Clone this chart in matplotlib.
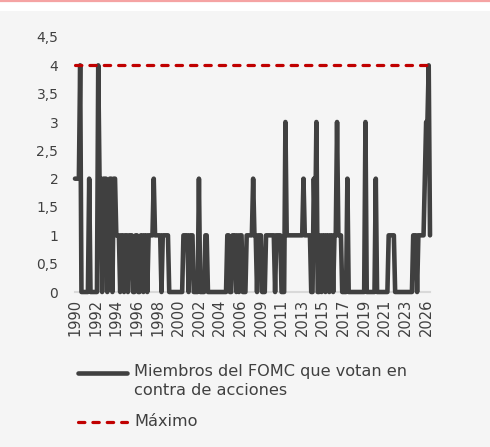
import matplotlib
matplotlib.use("Agg")
import matplotlib.pyplot as plt
import numpy as np
from matplotlib.lines import Line2D
from matplotlib.patches import Rectangle

# Number of FOMC members dissenting at each meeting
disidentes = (
    [2, 2, 2, 2, 4, 0, 0, 0, 0, 0, 0, 2, 0, 0, 0, 0, 0, 0, 4, 2,
     2, 0, 2, 2, 2, 0, 1, 2, 2, 0, 2, 2, 1, 1, 1, 0, 1, 1, 0, 1,
     1, 0, 1, 1, 1, 0, 0, 1, 1, 0, 0, 1, 1, 0, 1, 1, 0, 1, 1, 1,
     1, 2, 1, 1, 1, 1, 1, 0, 1, 1, 1, 1, 1, 0, 0, 0, 0, 0, 0, 0,
     0, 0, 0, 0, 1, 1, 1, 1, 0, 1, 1, 1, 0, 0, 0, 0, 2, 0, 0, 0,
     0, 1, 1, 0, 0, 0, 0, 0, 0, 0, 0, 0, 0, 0, 0, 0, 0, 0, 1, 1,
     0, 0, 1, 1, 1, 0, 1, 0, 1, 1, 0, 0, 0, 1, 1, 1, 1, 1, 2, 1,
     1, 0, 1, 1, 1, 0, 0, 0, 1, 1, 1, 1, 1, 1, 1, 0, 1, 1, 1, 1,
     0, 0, 0, 3, 1, 1, 1, 1, 1, 1, 1, 1, 1, 1, 1, 1, 1, 2, 1, 1,
     1, 1, 1, 0, 0, 2, 1, 3, 0, 0, 1, 0, 1, 1, 0, 1, 1, 0, 1, 1,
     0, 1, 1, 3, 1, 1, 1, 0, 0, 0, 0, 2, 0, 0, 0, 0, 0, 0, 0, 0,
     0, 0, 0, 0, 0, 3, 0, 0, 0, 0, 0, 0, 0, 2, 0, 0, 0, 0, 0, 0,
     0, 0, 0, 1, 1, 1, 1, 1, 0, 0, 0, 0, 0, 0, 0, 0, 0, 0, 0, 0,
     0, 0, 1, 1, 1, 0, 1, 1, 1, 1, 1, 2, 3, 3, 4, 1]
)
maximo_valor = 4
anios = ['1990', '1992', '1994', '1996', '1998', '2000', '2002', '2004', '2006',
         '2009', '2011', '2013', '2015', '2017', '2019', '2021', '2023', '2026']
intervalo_etiquetas = 16
yticks = [0, 0.5, 1, 1.5, 2, 2.5, 3, 3.5, 4, 4.5]
ytick_labels = ['0', '0,5', '1', '1,5', '2', '2,5', '3', '3,5', '4', '4,5']
label_serie = 'Miembros del FOMC que votan en\ncontra de acciones'
label_max = 'Máximo'

W, H = 490, 447
fx = lambda px: px / W
fy = lambda py: 1 - py / H

plt.rcParams['font.family'] = ['DejaVu Sans']
fig = plt.figure(figsize=(W / 100, H / 100), dpi=100)
fig.patch.set_facecolor('white')
fig.add_artist(Rectangle((0, 0), 1, fy(11), transform=fig.transFigure,
                         facecolor='#f5f5f5', edgecolor='none', zorder=-10))
fig.add_artist(Line2D([0, 1], [fy(0.8), fy(0.8)], color='#f5a3a3', lw=1.6))

ax = fig.add_axes([fx(75), fy(292), fx(430) - fx(75), fy(37) - fy(292)])
ax.set_facecolor('none')

x = np.arange(len(disidentes))
maximo = np.full(len(disidentes), maximo_valor)
TEXT = '#404040'
GRAY = '#404040'
RED = '#c00000'

ax.plot(x, disidentes, color=GRAY, lw=3.3, solid_joinstyle='round',
        solid_capstyle='round', clip_on=False, zorder=3)
ax.plot(x, maximo, color=RED, lw=2.3, ls=(0, (2.0, 2.5)), dash_capstyle='round',
        clip_on=False, zorder=4)

ax.set_xlim(0, len(disidentes) - 1)
ax.set_ylim(0, 4.5)
ax.set_yticks(yticks)
ax.set_yticklabels(ytick_labels)
ax.set_xticks(np.arange(len(anios)) * intervalo_etiquetas)
ax.set_xticklabels(anios, rotation=90)
for s in ['top', 'right', 'left']:
    ax.spines[s].set_visible(False)
ax.spines['bottom'].set_color('#d9d9d9')
ax.spines['bottom'].set_linewidth(1.5)
ax.spines['bottom'].set_zorder(1)
ax.tick_params(axis='y', length=0, pad=12, labelsize=10, labelcolor=TEXT)
ax.tick_params(axis='x', length=0, pad=5, labelsize=10.5, labelcolor=TEXT)

# legend
fig.add_artist(Line2D([fx(78), fx(127)], [fy(373), fy(373)], color=GRAY, lw=3.3,
                      solid_capstyle='round'))
fig.text(fx(134), fy(364), label_serie, fontsize=11.6, color=TEXT, va='top',
         linespacing=1.3, transform=fig.transFigure)
fig.add_artist(Line2D([fx(78), fx(127)], [fy(422), fy(422)], color=RED, lw=2.3,
                      ls=(0, (2.0, 2.5)), dash_capstyle='round'))
fig.text(fx(134), fy(422), label_max, fontsize=11.6, color=TEXT, va='center',
         transform=fig.transFigure)

fig.savefig('out.png', dpi=100, facecolor=fig.get_facecolor())
